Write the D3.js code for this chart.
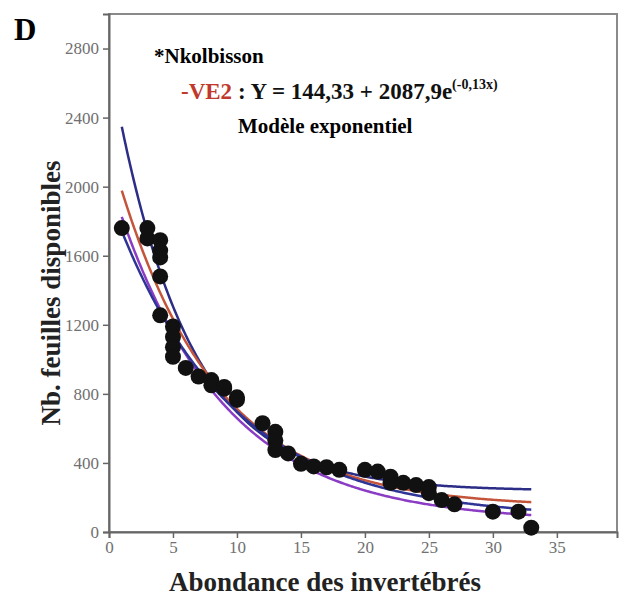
<!DOCTYPE html>
<html><head><meta charset="utf-8">
<script src="https://cdn.jsdelivr.net/npm/d3@7/dist/d3.min.js"></script>
<style>body{margin:0;background:#fff}svg{display:block}</style>
</head><body>
<svg id="c" width="625" height="603"></svg>
<script>
// ---- data ----
const pointsX = [1,3,3,4,4,4,4,4,5,5,5,5,6,7,8,8,9,9,10,10,12,13,13,13,14,15,16,17,18,20,21,22,22,23,24,25,25,26,27,30,32,33];
const pointsY = [1760,1760,1700,1690,1630,1590,1480,1255,1190,1130,1070,1015,950,900,880,850,840,830,780,765,630,580,530,475,455,395,380,375,360,360,350,320,285,285,272,260,225,185,160,118,118,25];
// fitted curves y = a + b*exp(-c*x)
const curveNames = ["upperBlue","VE2","purple","lowerBlue"];
const curveA = [238, 144.33, 60, 80];
const curveB = [2500, 2087.9, 1990, 1855];
const curveC = [0.17, 0.13, 0.12, 0.11];
const curveColors = ["#2b2d86","#c4553a","#8b3cc4","#2f3596"];
const xTicks = [0,5,10,15,20,25,30,35];
const yTicks = [0,400,800,1200,1600,2000,2400,2800];

const svg = d3.select("#c");
const L=109, R=617, T=14, B=532;
const x = d3.scaleLinear().domain([0,39.7]).range([L,R]);
const y = d3.scaleLinear().domain([0,3000]).range([B,T]);
const serif = "'Liberation Serif','Times New Roman',serif";

// frame
svg.append("rect").attr("x",L).attr("y",T).attr("width",R-L).attr("height",B-T)
  .attr("fill","none").attr("stroke","#8a8a8a").attr("stroke-width",2);

// axes
const xa = svg.append("g").attr("transform",`translate(0,${B})`)
  .call(d3.axisBottom(x).tickValues(xTicks).tickSize(6).tickPadding(3).tickFormat(d3.format("d")));
const ya = svg.append("g").attr("transform",`translate(${L},0)`)
  .call(d3.axisLeft(y).tickValues(yTicks).tickSize(6).tickPadding(4).tickFormat(d3.format("d")));
[xa,ya].forEach(g=>{
  g.select(".domain").attr("stroke","#666").attr("stroke-width",2);
  g.selectAll(".tick line").attr("stroke","#666").attr("stroke-width",1.5);
  g.selectAll(".tick text").attr("fill","#707070").attr("font-family",serif).attr("font-size",17);
});

// curves
const xs = d3.range(1,33.001,0.1);
curveNames.forEach((n,i)=>{
  const line = d3.line().x(d=>x(d)).y(d=>y(curveA[i]+curveB[i]*Math.exp(-curveC[i]*d)));
  svg.append("path").datum(xs).attr("d",line).attr("fill","none")
    .attr("stroke",curveColors[i]).attr("stroke-width",2.5);
});

// points
svg.append("g").selectAll("circle").data(pointsX.map((d,i)=>[d,pointsY[i]])).join("circle")
  .attr("cx",d=>x(d[0])).attr("cy",d=>y(d[1])).attr("r",8).attr("fill","#111");

// labels
svg.append("text").attr("x",14).attr("y",40).attr("font-family",serif).attr("font-weight","bold")
  .attr("font-size",31).text("D");
svg.append("text").attr("x",154).attr("y",63).attr("font-family",serif).attr("font-weight","bold")
  .attr("font-size",21).text("*Nkolbisson");
const eq = svg.append("text").attr("x",181).attr("y",99).attr("font-family",serif).attr("font-weight","bold")
  .attr("font-size",23);
eq.append("tspan").attr("fill","#c0392b").text("-VE2");
eq.append("tspan").attr("fill","#111").text(" : Y = 144,33 + 2087,9e");
eq.append("tspan").attr("fill","#111").attr("font-size",14).attr("dy",-10).text("(-0,13x)");
svg.append("text").attr("x",238).attr("y",133).attr("font-family",serif).attr("font-weight","bold")
  .attr("font-size",21).text("Modèle exponentiel");

svg.append("text").attr("x",325).attr("y",591).attr("text-anchor","middle").attr("font-family",serif)
  .attr("font-weight","bold").attr("font-size",27).attr("fill","#222").text("Abondance des invertébrés");
svg.append("text").attr("transform","translate(60,293) rotate(-90)").attr("text-anchor","middle")
  .attr("font-family",serif).attr("font-weight","bold").attr("font-size",27).attr("fill","#222")
  .text("Nb. feuilles disponibles");
</script>
</body></html>
